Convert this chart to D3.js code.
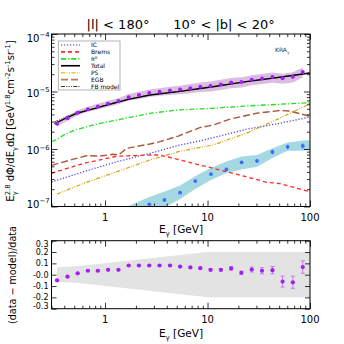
<!DOCTYPE html>
<html>
<head>
<meta charset="utf-8">
<script src="https://cdn.jsdelivr.net/npm/d3@7"></script>
<style>
  body { margin: 0; background: #fff; }
  svg { display: block; }
  text { font-family: "DejaVu Sans", sans-serif; fill: #000; }
</style>
</head>
<body>
<svg id="chart" width="344" height="344"></svg>
<script>
// data

// measured spectrum (purple points) and residuals
const energies = [0.34, 0.43, 0.54, 0.68, 0.85, 1.07, 1.35, 1.7, 2.14, 2.7, 3.4, 4.3, 5.4, 6.8, 8.5, 10.7, 13.5, 17, 21.4, 27, 34, 43, 54, 68, 85];
const dataFlux = [2.76e-6, 3.44e-6, 4.27e-6, 4.92e-6, 5.49e-6, 6.14e-6, 6.84e-6, 7.98e-6, 8.65e-6, 9.41e-6, 9.9e-6, 1.04e-5, 1.08e-5, 1.14e-5, 1.21e-5, 1.25e-5, 1.33e-5, 1.43e-5, 1.47e-5, 1.6e-5, 1.68e-5, 1.78e-5, 1.7e-5, 1.8e-5, 2.18e-5];
const sysErr = [0.1, 0.1, 0.1, 0.1, 0.11, 0.12, 0.12, 0.13, 0.14, 0.15, 0.15, 0.16, 0.17, 0.18, 0.19, 0.2, 0.2, 0.2, 0.2, 0.2, 0.2, 0.2, 0.2, 0.2, 0.2];
const residual = [-0.05, -0.017, 0.012, 0.035, 0.035, 0.043, 0.043, 0.081, 0.081, 0.081, 0.081, 0.081, 0.072, 0.064, 0.058, 0.043, 0.043, 0.055, 0.017, 0.046, 0.035, 0.04, -0.061, -0.067, 0.067];
const residErr = [0.006, 0.005, 0.005, 0.005, 0.005, 0.005, 0.005, 0.005, 0.005, 0.005, 0.005, 0.006, 0.006, 0.007, 0.008, 0.009, 0.01, 0.015, 0.015, 0.022, 0.027, 0.032, 0.048, 0.053, 0.055];

// grey band of the residual panel
const residBandE = [0.34, 0.53, 10, 100];
const residBandLo = [-0.065, -0.07, -0.2, -0.2];
const residBandHi = [0.065, 0.075, 0.2, 0.2];

// model components
const icE = [0.3, 0.62, 1.3, 2.74, 5.17, 9.1, 23.9, 50.6, 100];
const icFlux = [2.67e-7, 4.03e-7, 6.01e-7, 8.42e-7, 1.15e-6, 1.43e-6, 2.2e-6, 2.8e-6, 3.6e-6];
const bremsE = [0.3, 0.62, 1.3, 2.74, 3.43, 5.37, 11.3, 23.9, 37.6, 50.6, 100];
const bremsFlux = [3.78e-7, 5.64e-7, 7.46e-7, 7.87e-7, 7.87e-7, 6.44e-7, 4.62e-7, 3.3e-7, 2.64e-7, 2.51e-7, 1.8e-7];
const pi0E = [0.3, 0.33, 0.41, 0.51, 0.62, 0.83, 1.3, 2.04, 2.74, 5.17, 11.3, 23.9, 50.6, 100];
const pi0Flux = [1.34e-6, 1.44e-6, 1.82e-6, 2.14e-6, 2.35e-6, 2.72e-6, 3.19e-6, 3.75e-6, 4.18e-6, 4.77e-6, 5.1e-6, 5.6e-6, 5.99e-6, 6.4e-6];
const totalE = [0.32, 0.41, 0.53, 1.04, 1.69, 2.74, 5.17, 11.3, 23.9, 50.6, 100];
const totalFlux = [2.75e-6, 3.42e-6, 4.18e-6, 5.82e-6, 7.32e-6, 8.69e-6, 9.93e-6, 1.21e-5, 1.48e-5, 1.77e-5, 2.1e-5];
const psE = [0.34, 0.62, 1.3, 2.74, 5.17, 11.3, 23.9, 50.6, 94, 100];
const psFlux = [1.65e-7, 2.53e-7, 4.03e-7, 6.44e-7, 8.98e-7, 1.17e-6, 1.88e-6, 3.42e-6, 5.82e-6, 6.3e-6];
const egbE = [0.3, 0.46, 0.66, 0.89, 1.2, 1.35, 1.63, 2.74, 3.43, 5.17, 8.4, 11.3, 16.5, 30, 50.6, 63, 100];
const egbFlux = [5.2e-7, 6.44e-7, 7.64e-7, 7.55e-7, 8.09e-7, 7.87e-7, 1.03e-6, 1.22e-6, 1.34e-6, 1.68e-6, 2.35e-6, 2.61e-6, 3.3e-6, 4.18e-6, 4.67e-6, 4.58e-6, 3.7e-6];
const fbModelE = [0.32, 0.41, 0.53, 0.8, 1.04, 1.69, 2.74, 5.17, 11.3, 23.9, 50.6, 100];
const fbModelFlux = [2.95e-6, 3.6e-6, 4.35e-6, 5.1e-6, 5.95e-6, 7.4e-6, 8.75e-6, 1.0e-5, 1.22e-5, 1.49e-5, 1.78e-5, 2.11e-5];

// Fermi bubbles spectrum (blue points + cyan band)
const fbE = [2.7, 3.8, 5.4, 7.6, 10.8, 15.3, 21.5, 30.4, 43, 60.5, 85];
const fbFlux = [1.09e-7, 1.3e-7, 1.74e-7, 2.77e-7, 3.67e-7, 4.43e-7, 5.87e-7, 6.23e-7, 8.87e-7, 1.09e-6, 1.13e-6];
const fbErr = [0.05, 0.05, 0.05, 0.05, 0.05, 0.06, 0.07, 0.08, 0.1, 0.1, 0.12];
const fbBandE = [1.6, 2.7, 3.8, 5.4, 7.6, 10.8, 15.3, 21.5, 30.4, 43, 60.5, 85, 100];
const fbBandLo = [5e-8, 7e-8, 9.5e-8, 1.35e-7, 2.01e-7, 2.89e-7, 3.83e-7, 4.4e-7, 4.92e-7, 6.97e-7, 9.33e-7, 9.33e-7, 9.6e-7];
const fbBandHi = [9.8e-8, 1.46e-7, 1.82e-7, 2.32e-7, 3.39e-7, 4.68e-7, 6.07e-7, 7.41e-7, 7.87e-7, 1.03e-6, 1.3e-6, 1.41e-6, 1.44e-6];

// ticks
const xMajorTicks = [1, 10, 100];
const xTickLabels = ["1", "10", "100"];
const yMajorTicks = [1e-7, 1e-6, 1e-5, 1e-4];
const yTickExp = ["-7", "-6", "-5", "-4"];
const rTicks = [-0.3, -0.2, -0.1, 0, 0.1, 0.2, 0.3];
const rTickLabels = ["-0.3", "-0.2", "-0.1", "-0.0", "0.1", "0.2", "0.3"];

const legendNames = ["IC", "Brems", "π0", "Total", "PS", "EGB", "FB model"];

// styles
const styles = {
  ic:    { color: "#4646ff", dash: "1.2,1.8", w: 1.3 },
  brems: { color: "#ff2a2a", dash: "4,3", w: 1.3 },
  pi0:   { color: "#1ee01e", dash: "5,2,1.2,2", w: 1.3 },
  total: { color: "#000", dash: null, w: 1.3 },
  ps:    { color: "#d6a010", dash: "4,1.5,1,1.5,1,1.5", w: 1.2 },
  egb:   { color: "#a8583a", dash: "7,3", w: 1.4 },
  fbm:   { color: "#333", dash: "4,1.3,1,1.3,1,1.3,1,1.3", w: 0.8 }
};

const svg = d3.select("#chart");
const top_ = { left: 51.5, right: 310, top: 34, bottom: 206.5 };
const res = { top: 240.7, bottom: 308.7 };

const x = d3.scaleLog().domain([0.3, 100]).range([top_.left, top_.right]);
const y = d3.scaleLog().domain([1e-7, 1e-4]).range([top_.bottom, top_.top]);
const yr = d3.scaleLinear().domain([-0.3, 0.3]).range([res.bottom, res.top]);

const defs = svg.append("defs");
defs.append("clipPath").attr("id", "clipTop").append("rect")
  .attr("x", top_.left).attr("y", top_.top)
  .attr("width", top_.right - top_.left).attr("height", top_.bottom - top_.top);
defs.append("clipPath").attr("id", "clipRes").append("rect")
  .attr("x", top_.left).attr("y", res.top)
  .attr("width", top_.right - top_.left).attr("height", res.bottom - res.top);

// helper for sub/superscripts
function rich(sel, parts, base) {
  let shift = 0;
  parts.forEach(([t, mode, dx]) => {
    const target = mode === "sub" ? base * 0.3 : mode === "sup" ? -base * 0.42 : 0;
    const ts = sel.append("tspan").text(t)
      .attr("dy", target - shift)
      .attr("font-size", mode === "n" ? base : base * 0.68);
    if (dx) ts.attr("dx", dx);
    shift = target;
  });
}

// ---------- top panel ----------
const plotTop = svg.append("g").attr("clip-path", "url(#clipTop)");

const sysBand = d3.area()
  .x((d, i) => x(energies[i]))
  .y0((d, i) => y(dataFlux[i] * (1 - sysErr[i])))
  .y1((d, i) => y(dataFlux[i] * (1 + sysErr[i])));
plotTop.append("path").datum(energies).attr("d", sysBand).attr("fill", "#dcbde2");

const fbBand = d3.area()
  .x((d, i) => x(fbBandE[i]))
  .y0((d, i) => y(fbBandLo[i]))
  .y1((d, i) => y(fbBandHi[i]));
plotTop.append("path").datum(fbBandE).attr("d", fbBand).attr("fill", "#a4d9e4");

const line = d3.line().x(d => x(d[0])).y(d => y(d[1]));
const series = [
  ["ic", icE, icFlux], ["brems", bremsE, bremsFlux], ["pi0", pi0E, pi0Flux],
  ["ps", psE, psFlux], ["egb", egbE, egbFlux], ["fbm", fbModelE, fbModelFlux],
  ["total", totalE, totalFlux]
];
series.forEach(([key, xs, ys]) => {
  const s = styles[key];
  plotTop.append("path").datum(d3.zip(xs, ys))
    .attr("d", line).attr("fill", "none")
    .attr("stroke", s.color).attr("stroke-width", s.w)
    .attr("stroke-dasharray", s.dash);
});

// data points
const pts = plotTop.append("g");
pts.selectAll("line").data(energies).join("line")
  .attr("x1", d => x(d)).attr("x2", d => x(d))
  .attr("y1", (d, i) => y(dataFlux[i] * (1 - residErr[i])))
  .attr("y2", (d, i) => y(dataFlux[i] * (1 + residErr[i])))
  .attr("stroke", "#b060e0").attr("stroke-width", 0.8);
pts.selectAll("circle").data(energies).join("circle")
  .attr("cx", d => x(d)).attr("cy", (d, i) => y(dataFlux[i]))
  .attr("r", 2).attr("fill", "#a020f0");

const fbPts = svg.append("g");
fbPts.selectAll("line").data(fbE).join("line")
  .attr("x1", d => x(d)).attr("x2", d => x(d))
  .attr("y1", (d, i) => y(fbFlux[i] * (1 - fbErr[i])))
  .attr("y2", (d, i) => y(fbFlux[i] * (1 + fbErr[i])))
  .attr("stroke", "#5080f0").attr("stroke-width", 0.8);
fbPts.selectAll("circle").data(fbE).join("circle")
  .attr("cx", d => x(d)).attr("cy", (d, i) => y(fbFlux[i]))
  .attr("r", 1.9).attr("fill", "#3a6cf5");

// ---------- residual panel ----------
const plotRes = svg.append("g").attr("clip-path", "url(#clipRes)");
const resBand = d3.area()
  .x((d, i) => x(residBandE[i]))
  .y0((d, i) => yr(residBandLo[i]))
  .y1((d, i) => yr(residBandHi[i]));
plotRes.append("path").datum(residBandE).attr("d", resBand).attr("fill", "#e3e3e3");
plotRes.selectAll("line.err").data(energies).join("line").attr("class", "err")
  .attr("x1", d => x(d)).attr("x2", d => x(d))
  .attr("y1", (d, i) => yr(residual[i] - residErr[i]))
  .attr("y2", (d, i) => yr(residual[i] + residErr[i]))
  .attr("stroke", "#b878e8").attr("stroke-width", 0.9);
plotRes.selectAll("line.cap").data(energies.flatMap((d, i) => [[d, residual[i] - residErr[i]], [d, residual[i] + residErr[i]]]))
  .join("line").attr("class", "cap")
  .attr("x1", d => x(d[0]) - 2).attr("x2", d => x(d[0]) + 2)
  .attr("y1", d => yr(d[1])).attr("y2", d => yr(d[1]))
  .attr("stroke", "#b878e8").attr("stroke-width", 0.9);
plotRes.selectAll("circle").data(energies).join("circle")
  .attr("cx", d => x(d)).attr("cy", (d, i) => yr(residual[i]))
  .attr("r", 2.1).attr("fill", "#a020f0");

// ---------- axes ----------
const xMinor = x.ticks().filter(t => !xMajorTicks.includes(t));
const yMinor = y.ticks().filter(t => !yMajorTicks.some(m => Math.abs(m - t) / m < 1e-6));

function tickAxis(axisFn, scale, values, size, tx, ty) {
  const g = svg.append("g").attr("transform", `translate(${tx},${ty})`)
    .call(axisFn(scale).tickValues(values).tickSize(-size).tickFormat(""));
  g.select(".domain").remove();
  g.selectAll(".tick line").attr("stroke", "#000").attr("stroke-width", 0.8);
}

[[top_.top, top_.bottom], [res.top, res.bottom]].forEach(([t, b]) => {
  tickAxis(d3.axisBottom, x, xMajorTicks, 6, 0, b);
  tickAxis(d3.axisBottom, x, xMinor, 3, 0, b);
  tickAxis(d3.axisTop, x, xMajorTicks, 6, 0, t);
  tickAxis(d3.axisTop, x, xMinor, 3, 0, t);
});
tickAxis(d3.axisLeft, y, yMajorTicks, 6, top_.left, 0);
tickAxis(d3.axisLeft, y, yMinor, 3, top_.left, 0);
tickAxis(d3.axisRight, y, yMajorTicks, 6, top_.right, 0);
tickAxis(d3.axisRight, y, yMinor, 3, top_.right, 0);
tickAxis(d3.axisLeft, yr, rTicks, 5, top_.left, 0);
tickAxis(d3.axisRight, yr, rTicks, 5, top_.right, 0);

svg.append("rect").attr("x", top_.left).attr("y", top_.top)
  .attr("width", top_.right - top_.left).attr("height", top_.bottom - top_.top)
  .attr("fill", "none").attr("stroke", "#000").attr("stroke-width", 1);
svg.append("rect").attr("x", top_.left).attr("y", res.top)
  .attr("width", top_.right - top_.left).attr("height", res.bottom - res.top)
  .attr("fill", "none").attr("stroke", "#000").attr("stroke-width", 1);

// tick labels
[[top_.bottom + 14.5], [res.bottom + 14]].forEach(([yy]) => {
  svg.append("g").selectAll("text").data(xMajorTicks).join("text")
    .attr("x", d => x(d)).attr("y", yy)
    .attr("text-anchor", "middle").attr("font-size", 10)
    .text((d, i) => xTickLabels[i]);
});

yMajorTicks.forEach((v, i) => {
  const off = i === yMajorTicks.length - 1 ? 7.5 : i === 0 ? 1 : 5;
  const t = svg.append("text").attr("x", top_.left - 2).attr("y", y(v) + off)
    .attr("text-anchor", "end");
  rich(t, [["10", "n"], ["\u2212" + yTickExp[i].slice(1), "sup"]], 10);
});

svg.append("g").selectAll("text").data(rTicks).join("text")
  .attr("x", top_.left - 3)
  .attr("y", d => yr(d) + 3 + (d === 0.3 ? 3 : d === -0.3 ? -3 : 0))
  .attr("text-anchor", "end").attr("font-size", 8)
  .text((d, i) => rTickLabels[i]);

// axis titles
[top_.bottom + 26, res.bottom + 28.5].forEach(yy => {
  const t = svg.append("text").attr("x", 181).attr("y", yy).attr("text-anchor", "middle");
  rich(t, [["E", "n"], ["γ", "sub"], [" [GeV]", "n"]], 10.5);
});

const yTitle = svg.append("text").attr("transform", "translate(14,121) rotate(-90)")
  .attr("text-anchor", "middle");
rich(yTitle, [["E", "n"], ["γ", "sub"], ["2.8", "sup", -4], [" dΦ/dE", "n"], ["γ", "sub"], ["dΩ [GeV", "n"],
  ["1.8", "sup"], ["cm", "n"], ["-2", "sup"], ["s", "n"], ["-1", "sup"], ["sr", "n"], ["-1", "sup"], ["]", "n"]], 10);

svg.append("text").attr("transform", "translate(15.5,275) rotate(-90)")
  .attr("text-anchor", "middle").attr("font-size", 9.6)
  .text("(data \u2212 model)/data");

// title
svg.append("text").attr("x", 118).attr("y", 29.3).attr("text-anchor", "middle")
  .attr("font-size", 13).text("|l| < 180°");
svg.append("text").attr("x", 224).attr("y", 29.3).attr("text-anchor", "middle")
  .attr("font-size", 13).text("10° < |b| < 20°");

// legend
const legendKeys = ["ic", "brems", "pi0", "total", "ps", "egb", "fbm"];
const leg = svg.append("g");
leg.append("rect").attr("x", 58.3).attr("y", 41).attr("width", 61.7).attr("height", 49)
  .attr("fill", "#fff").attr("stroke", "#a0a0a0").attr("stroke-width", 0.8);
const legY = d3.scalePoint().domain(legendKeys).range([45, 86.5]);
legendKeys.forEach((k, i) => {
  const s = styles[k];
  const legColor = k === "ps" ? "#f2cc10" : k === "egb" ? "#c07a5a" : k === "ic" ? "#7070ff" : s.color;
  leg.append("line").attr("x1", 61).attr("x2", 80).attr("y1", legY(k)).attr("y2", legY(k))
    .attr("stroke", legColor).attr("stroke-width", s.w + 0.3).attr("stroke-dasharray", s.dash);
  const t = leg.append("text").attr("x", 91).attr("y", legY(k) + 2.2).attr("font-size", 6);
  if (k === "pi0") rich(t, [["π", "n"], ["0", "sup"]], 6);
  else t.text(legendNames[i]);
});

const kra = svg.append("text").attr("x", 275).attr("y", 52).attr("font-size", 6).style("fill", "#333");
rich(kra, [["KRA", "n"], ["γ", "sub"]], 6);
</script>
</body>
</html>
